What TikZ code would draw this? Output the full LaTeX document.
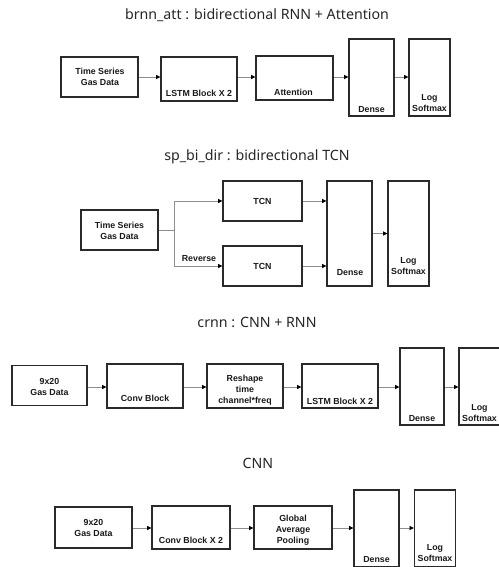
\documentclass[tikz,border=0pt]{standalone}
\usepackage{fontspec}
\setmainfont{Liberation Sans}
\newfontfamily\titlefont{Noto Sans}
\usetikzlibrary{arrows.meta}
\definecolor{boxline}{HTML}{2A2A2A}
\definecolor{conn}{HTML}{8E8E8E}
\tikzset{
  blk/.style={draw=boxline, line width=1.4pt, rectangle, inner sep=0pt},
  lbl/.style={font=\fontsize{8.8}{11}\selectfont\bfseries, align=center, anchor=base, inner sep=0pt, text=black!90},
  ttl/.style={font=\titlefont\fontsize{14.2}{16}\selectfont, anchor=base, inner sep=0pt, text=black!85},
  conarrow/.style={draw=conn, line width=0.7pt, -{Triangle[length=4.2pt,width=4pt,color=black]}},
  conline/.style={draw=conn, line width=0.7pt}
}
\begin{document}
\begin{tikzpicture}[x=1pt,y=-1pt]
\useasboundingbox (0,0) rectangle (498,567);
% ---------- Row 1 ----------
\node[ttl] (t1) at (257,19.5) {brnn\_att : bidirectional RNN + Attention};
\node[blk, minimum width=77pt, minimum height=40pt] (a1) at (99.5,77) {};
\node[blk, minimum width=76pt, minimum height=44pt] (a2) at (199,79) {};
\node[blk, minimum width=77pt, minimum height=44pt] (a3) at (294.5,78) {};
\node[blk, minimum width=45pt, minimum height=77pt] (a4) at (371.5,77.5) {};
\node[blk, minimum width=41pt, minimum height=77pt] (a5) at (429.5,77.5) {};
\node[lbl] (a1t) at (100,85.2) {Time Series\\Gas Data};
\node[lbl] (a2t) at (199,96.2) {LSTM Block X 2};
\node[lbl] (a3t) at (293.5,95.2) {Attention};
\node[lbl] (a4t) at (371.5,112.2) {Dense};
\node[lbl] (a5t) at (429.5,111.2) {Log\\Softmax};
\draw[conarrow] (a1.east) -- (a1.east -| a2.west);
\draw[conarrow] (a1.east -| a2.east) -- (a1.east -| a3.west);
\draw[conarrow] (a1.east -| a3.east) -- (a1.east -| a4.west);
\draw[conarrow] (a1.east -| a4.east) -- (a1.east -| a5.west);
% ---------- Row 2 ----------
\node[ttl] (t2) at (257,160.5) {sp\_bi\_dir : bidirectional TCN};
\node[blk, minimum width=77pt, minimum height=40pt] (b1) at (119.5,230) {};
\node[blk, minimum width=79pt, minimum height=40pt] (b2) at (262.5,201) {};
\node[blk, minimum width=79pt, minimum height=40pt] (b3) at (262.5,266) {};
\node[blk, minimum width=45pt, minimum height=105pt] (b4) at (349.5,233.5) {};
\node[blk, minimum width=41pt, minimum height=105pt] (b5) at (408.5,233.5) {};
\node[lbl] (b1t) at (119.5,239.2) {Time Series\\Gas Data};
\node[lbl] (b2t) at (262.5,204.2) {TCN};
\node[lbl] (b3t) at (262.5,269.2) {TCN};
\node[lbl] (b4t) at (350,275.2) {Dense};
\node[lbl] (b5t) at (408.5,274.2) {Log\\Softmax};
\coordinate (split) at (174,230);
\node[lbl] (rev) at (199,261.2) {Reverse};
\draw[conline] (b1.east) -- (split);
\draw[conarrow] (split) |- (b2.west);
\draw[conarrow] (split) |- (b3.west);
\draw[conarrow] (b2.east) -- (b2.east -| b4.west);
\draw[conarrow] (b3.east) -- (b3.east -| b4.west);
\draw[conarrow] (b4.east) -- (b5.west);
% ---------- Row 3 ----------
\node[ttl] (t3) at (257,327.5) {crnn : CNN + RNN};
\node[blk, minimum width=75pt, minimum height=40pt] (c1) at (49.5,385.5) {};
\node[blk, minimum width=76pt, minimum height=44pt] (c2) at (145,386) {};
\node[blk, minimum width=76pt, minimum height=44pt] (c3) at (245,386) {};
\node[blk, minimum width=76pt, minimum height=44pt] (c4) at (340,386) {};
\node[blk, minimum width=44pt, minimum height=77pt] (c5) at (422,386.5) {};
\node[blk, minimum width=41pt, minimum height=77pt] (c6) at (479.5,386.5) {};
\node[lbl] (c1t) at (49.5,395.2) {9x20\\Gas Data};
\node[lbl] (c2t) at (145,401.2) {Conv Block};
\node[lbl] (c3t) at (245,403.2) {Reshape\\time\\channel*freq};
\node[lbl] (c4t) at (340,404.2) {LSTM Block X 2};
\node[lbl] (c5t) at (422,421.2) {Dense};
\node[lbl] (c6t) at (479.5,421.2) {Log\\Softmax};
\coordinate (r3) at (0,387);
\draw[conarrow] (r3 -| c1.east) -- (r3 -| c2.west);
\draw[conarrow] (r3 -| c2.east) -- (r3 -| c3.west);
\draw[conarrow] (r3 -| c3.east) -- (r3 -| c4.west);
\draw[conarrow] (r3 -| c4.east) -- (r3 -| c5.west);
\draw[conarrow] (r3 -| c5.east) -- (r3 -| c6.west);
% ---------- Row 4 ----------
\node[ttl] (t4) at (258,468.5) {CNN};
\node[blk, minimum width=77pt, minimum height=41pt] (d1) at (93.5,527.5) {};
\node[blk, minimum width=78pt, minimum height=43pt] (d2) at (191,527.5) {};
\node[blk, minimum width=78pt, minimum height=43pt] (d3) at (293,527.5) {};
\node[blk, minimum width=45pt, minimum height=77pt] (d4) at (376.5,528.5) {};
\node[blk, minimum width=41pt, minimum height=77pt] (d5) at (435,528.5) {};
\node[lbl] (d1t) at (93.5,536.2) {9x20\\Gas Data};
\node[lbl] (d2t) at (191,543.2) {Conv Block X 2};
\node[lbl] (d3t) at (293,543.2) {Global\\Average\\Pooling};
\node[lbl] (d4t) at (376.5,562.2) {Dense};
\node[lbl] (d5t) at (435,561.2) {Log\\Softmax};
\coordinate (r4) at (0,528);
\draw[conarrow] (r4 -| d1.east) -- (r4 -| d2.west);
\draw[conarrow] (r4 -| d2.east) -- (r4 -| d3.west);
\draw[conarrow] (r4 -| d3.east) -- (r4 -| d4.west);
\draw[conarrow] (r4 -| d4.east) -- (r4 -| d5.west);
\end{tikzpicture}
\end{document}
